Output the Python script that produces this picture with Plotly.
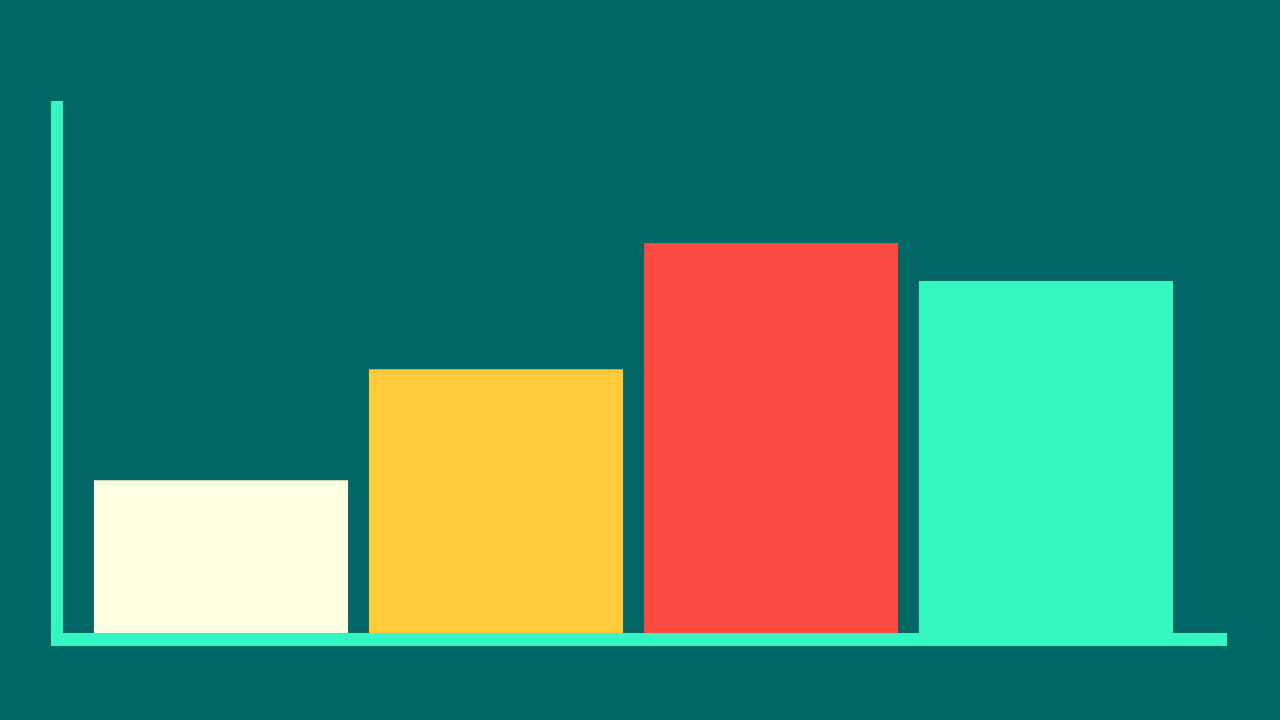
import plotly.graph_objects as go

categories = [0, 1, 2, 3]
values = [20.1, 34.7, 51.3, 46.3]
bar_colors = ['#FFFEE0', '#FFCB3B', '#F84A41', '#35F5C1']

fig = go.Figure()

fig.add_trace(go.Bar(
    x=categories,
    y=values,
    marker=dict(color=bar_colors, line=dict(width=0)),
    width=0.924,
))

fig.update_layout(
    width=1280,
    height=720,
    paper_bgcolor='#006666',
    plot_bgcolor='#006666',
    margin=dict(l=63, r=53, t=101, b=87),
    showlegend=False,
)

fig.update_xaxes(
    range=[-0.5745, 3.658],
    showgrid=False,
    zeroline=False,
    showticklabels=False,
    ticks='',
    showline=True,
    linecolor='#35F5C1',
    linewidth=13,
)

fig.update_yaxes(
    range=[0, 70],
    showgrid=False,
    zeroline=False,
    showticklabels=False,
    ticks='',
    showline=True,
    linecolor='#35F5C1',
    linewidth=12,
)

# drop the browser's default body margin so the figure fills the window
fig.write_html(
    "out.html",
    config={'displayModeBar': False},
    post_script="document.body.style.margin = '0';",
)
